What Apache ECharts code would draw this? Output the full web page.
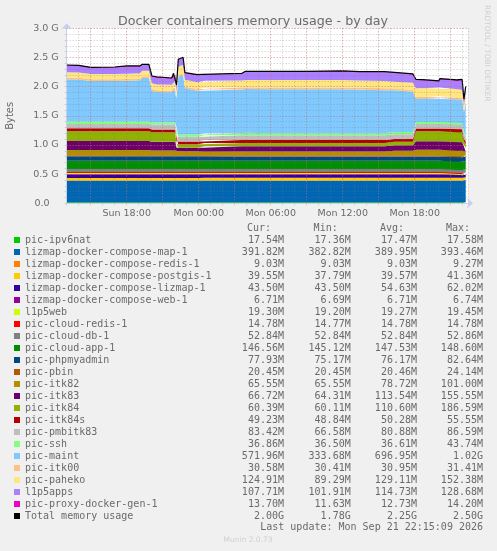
<!DOCTYPE html>
<html lang="en">
<head>
    <meta charset="UTF-8">
    <title>Docker containers memory usage - by day</title>
    <script src="https://cdn.jsdelivr.net/npm/echarts@6/dist/echarts.min.js"></script>
    <style>
        html, body { margin: 0; padding: 0; background: #f0f0f0; }
        #chart { width: 497px; height: 551px; }
    </style>
</head>
<body>
<div id="chart"></div>
<script type="text/javascript">
    // hours since Sunday 00:00, values in MiB
    let hours = [13,14,15,17,18, 19.1,19.3,19.85,20.1,20.5, 21.75,21.9,22.05,22.15,22.3, 22.7,22.85,23.9,24.4,24.5, 27.6,27.9,30,33,36, 37.4,39.5,40.3,41.85,42.1, 43,44,44.1,45.5,45.6, 45.95,46.1,46.25];

    let ipv6nat = [17.5,17.5,17.5,17.5,17.5, 17.5,17.5,17.5,17.5,17.5, 17.5,17.5,17.5,17.5,17.5, 17.5,17.5,17.5,17.5,17.5, 17.5,17.5,17.5,17.5,17.5, 17.5,17.5,17.5,17.5,17.5, 17.5,17.5,17.5,17.5,17.5, 17.5,17.5,17.54];
    let composeMap = [378,378,378,378,378, 378,378,378,378,378, 378,378,378,378,378, 378,378,378,378,380, 380,380,380,380,380, 380,380,380,380,380, 380,380,380,380,380, 380,380,391.82];
    let composeRedis = [9,9,9,9,9, 9,9,9,9,9, 9,9,9,9,9, 9,9,9,9,9, 9,9,9,9,9, 9,9,9,9,9, 9,9,9,9,9, 9,9,9.03];
    let composePostgis = [41,41,41,41,41, 41,41,41,41,41, 41,41,41,41,41, 41,41,41,41,40, 40,40,40,40,40, 40,40,40,40,40, 40,40,40,40,40, 40,40,39.55];
    let composeLizmap = [62,62,62,62,62, 62,62,62,62,62, 62,62,62,62,62, 62,62,62,62,60, 60,60,60,60,60, 60,60,60,60,60, 60,60,60,60,44, 44,44,43.5];
    let composeWeb = [6.7,6.7,6.7,6.7,6.7, 6.7,6.7,6.7,6.7,6.7, 6.7,6.7,6.7,6.7,6.7, 6.7,6.7,6.7,6.7,6.7, 6.7,6.7,6.7,6.7,6.7, 6.7,6.7,6.7,6.7,6.7, 6.7,6.7,6.7,6.7,6.7, 6.7,6.7,6.71];
    let l1p5web = [19.3,19.3,19.3,19.3,19.3, 19.3,19.3,19.3,19.3,19.3, 19.3,19.3,19.3,19.3,19.3, 19.3,19.3,19.3,19.3,19.3, 19.3,19.3,19.3,19.3,19.3, 19.3,19.3,19.3,19.3,19.3, 19.3,19.3,19.3,19.3,19.3, 19.3,19.3,19.3];
    let cloudRedis = [14.8,14.8,14.8,14.8,14.8, 14.8,14.8,14.8,14.8,14.8, 14.8,14.8,14.8,14.8,14.8, 14.8,14.8,14.8,14.8,14.8, 14.8,14.8,14.8,14.8,14.8, 14.8,14.8,14.8,14.8,14.8, 14.8,14.8,14.8,14.8,14.8, 14.8,14.8,14.78];
    let cloudDb = [52.8,52.8,52.8,52.8,52.8, 52.8,52.8,52.8,52.8,52.8, 52.8,52.8,52.8,52.8,52.8, 52.8,52.8,52.8,52.8,52.8, 52.8,52.8,52.8,52.8,52.8, 52.8,52.8,52.8,52.8,52.8, 52.8,52.8,52.8,52.8,52.8, 52.8,52.8,52.84];
    let cloudApp = [147,147,147,147,147, 147,147,147,147,147, 147,147,147,147,147, 147,147,147,147,147, 147,147,147,147,147, 147,147,147,147,147, 147,147,147,147,147, 147,147,146.56];
    let phpmyadmin = [76,76,76,76,76, 76,76,76,76,76, 76,76,76,76,76, 76,76,76,76,76, 76,76,76,76,76, 76,76,76,76,76, 76,76,76,76,76, 76,76,77.93];
    let pbin = [20.5,20.5,20.5,20.5,20.5, 20.5,20.5,20.5,20.5,20.5, 20.5,20.5,20.5,20.5,20.5, 20.5,20.5,20.5,20.5,20.5, 20.5,20.5,20.5,20.5,20.5, 20.5,20.5,20.5,20.5,20.5, 20.5,20.5,20.5,20.5,20.5, 20.5,20.5,20.45];
    let itk82 = [91,91,91,91,91, 91,91,91,82,82, 82,82,82,70,70, 70,70,70,70,65, 65,65,65,65,65, 65,65,80,80,95, 95,95,95,95,95, 95,70,65.55];
    let itk83 = [158,158,158,158,158, 158,158,158,155,155, 155,155,155,60,60, 60,60,60,60,92, 92,92,92,92,92, 92,92,95,95,150, 150,150,150,150,150, 150,100,66.72];
    let itk84 = [170,170,170,170,170, 170,170,170,165,165, 165,165,165,60,60, 60,60,60,60,60, 60,60,60,60,60, 60,60,60,60,176, 176,176,176,176,176, 176,90,60.39];
    let itk84s = [55,55,55,55,55, 55,55,55,50,50, 50,50,50,50,50, 50,50,50,50,50, 50,50,50,50,50, 50,50,50,50,50, 50,50,50,50,50, 50,49,49.23];
    let pmbitk83 = [74,74,74,74,74, 74,74,74,86,86, 86,86,86,84,84, 84,84,84,84,84, 84,84,84,84,84, 84,84,84,84,76, 76,76,76,76,76, 76,80,83.42];
    let ssh = [44,44,44,44,44, 44,44,44,37,37, 37,37,37,37,37, 37,37,37,37,37, 37,44,37,37,37, 37,37,37,37,36, 36,36,36,36,36, 36,36,36.86];
    let maint = [740,735,710,710,716, 725,763,763,558,534, 530,616,600,637,1020, 1044,813,772,772,768, 768,766,770,770,772, 765,755,735,710,410, 415,405,425,400,410, 400,340,571.96];
    let itk00 = [31,31,31,31,31, 31,31,31,31,31, 31,31,31,31,31, 31,31,31,31,31, 31,31,31,31,31, 31,31,31,31,31, 31,31,31,31,31, 31,31,30.58];
    let paheko = [92,95,92,92,92, 92,98,98,97,100, 100,100,100,90,145, 145,120,115,115,120, 124,128,132,132,132, 128,130,120,125,150, 150,150,148,150,150, 148,90,124.91];
    let l1p5apps = [115,111,104,110,122, 113,98,98,116,120, 106,102,106,100,113, 124,111,121,127,112, 114,140,140,140,143, 143,151,150,142,146, 130,122,145,145,146, 174,102,107.71];
    let proxyGen = [13,13,13,13,13, 13,13,13,13,13, 13,13,13,13,13, 13,13,13,13,13, 13,13,13,12,13, 12,12,12,13,13, 13,13,13,13,13, 13,12,13.7];
    let totalUsage = [2428,2422,2387,2393,2411, 2411,2440,2440,2235,2218, 2200,2282,2270,2077,2528, 2563,2294,2258,2264,2276, 2282,2317,2318,2317,2323, 2311,2311,2298,2271,2177, 2166,2148,2189,2166,2161, 2177,1828,2051];

    let names = ['pic-ipv6nat', 'lizmap-docker-compose-map-1', 'lizmap-docker-compose-redis-1', 'lizmap-docker-compose-postgis-1', 'lizmap-docker-compose-lizmap-1', 'lizmap-docker-compose-web-1', 'l1p5web', 'pic-cloud-redis-1', 'pic-cloud-db-1', 'pic-cloud-app-1', 'pic-phpmyadmin', 'pic-pbin', 'pic-itk82', 'pic-itk83', 'pic-itk84', 'pic-itk84s', 'pic-pmbitk83', 'pic-ssh', 'pic-maint', 'pic-itk00', 'pic-paheko', 'l1p5apps', 'pic-proxy-docker-gen-1', 'Total memory usage'];
    let colors = ['#00CC00', '#0066B3', '#FF8000', '#FFCC00', '#330099', '#990099', '#CCFF00', '#FF0000', '#808080', '#008F00', '#00487D', '#B35A00', '#B38F00', '#6B006B', '#8FB300', '#B30000', '#BEBEBE', '#80FF80', '#80C9FF', '#FFC080', '#FFE680', '#AA80FF', '#EE00CC', '#000000'];
    let layers = [ipv6nat, composeMap, composeRedis, composePostgis, composeLizmap, composeWeb, l1p5web, cloudRedis, cloudDb, cloudApp, phpmyadmin, pbin, itk82, itk83, itk84, itk84s, pmbitk83, ssh, maint, itk00, paheko, l1p5apps, proxyGen];

    let curCol = ['17.54M', '391.82M', '9.03M', '39.55M', '43.50M', '6.71M', '19.30M', '14.78M', '52.84M', '146.56M', '77.93M', '20.45M', '65.55M', '66.72M', '60.39M', '49.23M', '83.42M', '36.86M', '571.96M', '30.58M', '124.91M', '107.71M', '13.70M', '2.00G'];
    let minCol = ['17.36M', '382.82M', '9.03M', '37.79M', '43.50M', '6.69M', '19.20M', '14.77M', '52.84M', '145.12M', '75.17M', '20.45M', '65.55M', '64.31M', '60.11M', '48.84M', '66.58M', '36.50M', '333.68M', '30.41M', '89.29M', '101.91M', '11.63M', '1.78G'];
    let avgCol = ['17.47M', '389.95M', '9.03M', '39.57M', '54.63M', '6.71M', '19.27M', '14.78M', '52.84M', '147.53M', '76.17M', '20.46M', '78.72M', '113.54M', '110.60M', '50.28M', '80.88M', '36.61M', '696.95M', '30.95M', '129.11M', '114.73M', '12.73M', '2.25G'];
    let maxCol = ['17.58M', '393.46M', '9.27M', '41.36M', '62.02M', '6.74M', '19.45M', '14.78M', '52.86M', '148.60M', '82.64M', '24.14M', '101.00M', '155.55M', '186.59M', '55.55M', '86.59M', '43.74M', '1.02G', '31.41M', '152.38M', '128.68M', '14.20M', '2.50G'];

    let tickHours = [18, 24, 30, 36, 42];
    let tickLabels = ['Sun 18:00', 'Mon 00:00', 'Mon 06:00', 'Mon 12:00', 'Mon 18:00'];
    let majorHours = [15, 18, 21, 24, 27, 30, 33, 36, 39, 42, 45];
    let majorGiga = [0.5, 1, 1.5, 2, 2.5, 3];

    let textColor = '#6a6a6a';
    let monoFont = '"DejaVu Sans Mono", monospace';
    let sunday = Date.UTC(2026, 8, 20);

    function toTime(h) {
        return sunday + h * 3600000;
    }

    let chart = echarts.init(document.getElementById('chart'));

    function toPoints(values) {
        return values.map(function (v, i) {
            return [toTime(hours[i]), v / 1024];
        });
    }

    let series = layers.map(function (values, i) {
        return {
            name: names[i],
            type: 'line',
            stack: 'mem',
            data: toPoints(values),
            symbol: 'none',
            color: colors[i],
            lineStyle: { width: 0 },
            areaStyle: { color: colors[i], opacity: 1 },
            z: 2
        };
    });

    // total line also carries the stronger grid lines, they sit over the areas
    let majorLines = majorHours.map(function (h) {
        return { xAxis: toTime(h) };
    }).concat(majorGiga.map(function (g) {
        return { yAxis: g };
    }));
    series.push({
        name: names[23],
        type: 'line',
        data: toPoints(totalUsage),
        symbol: 'none',
        color: '#000',
        lineStyle: { width: 1.2, color: '#000' },
        z: 3,
        markLine: {
            silent: true,
            symbol: 'none',
            animation: false,
            label: { show: false },
            lineStyle: { color: 'rgba(230,110,110,0.5)', type: [1, 2], width: 1 },
            data: majorLines
        }
    });

    function statText(x, y, text, align) {
        return {
            type: 'text',
            x: x,
            y: y,
            silent: true,
            style: { text: text, fill: textColor, font: '10px ' + monoFont, textAlign: align, textVerticalAlign: 'middle' }
        };
    }

    let columnRight = [284, 350.7, 417, 483];
    let columns = [curCol, minCol, avgCol, maxCol];
    let headers = ['Cur:', 'Min:', 'Avg:', 'Max:'];
    let graphics = [];
    columns.forEach(function (col, c) {
        graphics.push(statText(columnRight[c] - 13, 228, headers[c], 'right'));
        col.forEach(function (text, i) {
            graphics.push(statText(columnRight[c], 240 + i * 12, text, 'right'));
        });
    });
    graphics.push(statText(483, 527.5, 'Last update: Mon Sep 21 22:15:09 2026', 'right'));
    graphics.push({
        type: 'text', x: 248, y: 540, silent: true,
        style: { text: 'Munin 2.0.73', fill: '#cfcfcf', font: '7.5px "DejaVu Sans"', textAlign: 'center', textVerticalAlign: 'middle' }
    });
    graphics.push({
        type: 'text', x: 487, y: 5, rotation: -Math.PI / 2, silent: true,
        style: { text: 'RRDTOOL / TOBI OETIKER', fill: '#cfcfcf', font: '7.5px "DejaVu Sans"', textAlign: 'left', textVerticalAlign: 'middle' }
    });

    let option = {
        animation: false,
        useUTC: true,
        backgroundColor: '#f0f0f0',
        title: {
            text: 'Docker containers memory usage - by day',
            left: 113,
            top: 10,
            textStyle: { fontFamily: 'DejaVu Sans', fontSize: 12.7, fontWeight: 'normal', color: textColor }
        },
        grid: {
            left: 66.7,
            right: 29,
            top: 28.3,
            bottom: 347.7,
            outerBoundsMode: 'none',
            show: true,
            backgroundColor: '#fff',
            borderWidth: 0
        },
        legend: {
            orient: 'vertical',
            left: 9,
            top: 229,
            itemWidth: 6,
            itemHeight: 6,
            itemGap: 0,
            icon: 'rect',
            selectedMode: false,
            data: names,
            textStyle: { fontFamily: 'DejaVu Sans Mono', fontSize: 10, lineHeight: 12, color: textColor }
        },
        xAxis: {
            type: 'time',
            min: toTime(13),
            max: toTime(46.44),
            minInterval: 3600000,
            maxInterval: 3600000,
            z: 4,
            axisLine: { onZero: false, lineStyle: { color: '#c8d0f0' }, symbol: ['none', 'arrow'], symbolSize: [8, 6], symbolOffset: [0, 5] },
            axisTick: { length: 2, lineStyle: { color: '#ccc' } },
            axisLabel: {
                color: textColor,
                fontFamily: 'DejaVu Sans',
                fontSize: 9.5,
                margin: 5,
                hideOverlap: false,
                interval: 0,
                formatter: function (v) {
                    let i = tickHours.indexOf((v - sunday) / 3600000);
                    return i >= 0 ? tickLabels[i] : '';
                }
            },
            splitLine: { show: true, lineStyle: { color: 'rgba(120,120,120,0.4)', type: [1, 2], width: 1 } }
        },
        yAxis: {
            type: 'value',
            min: 0,
            max: 3,
            interval: 0.1,
            z: 4,
            name: 'Bytes',
            nameLocation: 'middle',
            nameGap: 51,
            nameTextStyle: { color: textColor, fontFamily: 'DejaVu Sans', fontSize: 10 },
            axisLine: { show: true, lineStyle: { color: '#c8d0f0' }, symbol: ['none', 'arrow'], symbolSize: [8, 6], symbolOffset: [0, 5] },
            axisTick: { show: true, length: 2, lineStyle: { color: '#ccc' } },
            axisLabel: {
                color: textColor,
                fontFamily: 'DejaVu Sans',
                fontSize: 9.5,
                margin: 8,
                showMinLabel: true,
                formatter: function (v) {
                    if (Math.round(v * 10) % 5 !== 0) return '';
                    return v === 0 ? '0.0   ' : v.toFixed(1) + ' G';
                }
            },
            splitLine: { show: true, lineStyle: { color: 'rgba(120,120,120,0.4)', type: [1, 2], width: 1 } }
        },
        graphic: graphics,
        series: series
    };
    chart.setOption(option);
</script>
</body>
</html>
